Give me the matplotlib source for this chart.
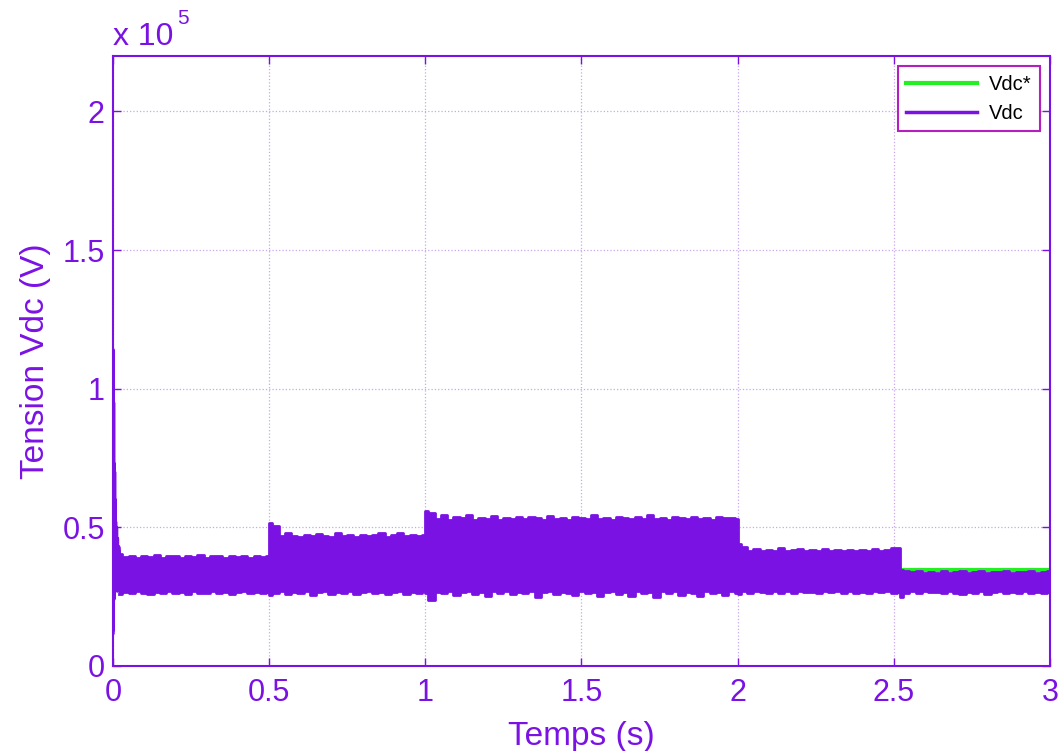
import numpy as np
import matplotlib
matplotlib.use("Agg")
import matplotlib.pyplot as plt

# ------------------------------------------------------------
# Data (tension in units of 1e5 V)
# ------------------------------------------------------------
vdc_ref_t = [0.0, 3.0]
vdc_ref = [0.347, 0.347]

# start-up transient of Vdc
trans_t = [0.0, 0.0004, 0.0008, 0.0016, 0.0024, 0.0032, 0.004, 0.0048, 0.0056,
           0.0064, 0.0072, 0.008, 0.0095, 0.011, 0.0125, 0.014, 0.016, 0.018, 0.02]
trans_v = [0.12, 1.14, 0.13, 0.95, 0.24, 0.73, 0.26, 0.70, 0.28, 0.60, 0.27,
           0.52, 0.28, 0.50, 0.29, 0.46, 0.27, 0.43, 0.40]

# segment limits of the oscillating band
seg_edges = [0.02, 0.5, 1.0, 2.0, 2.52, 3.0]

upper1 = [0.405, 0.392, 0.398, 0.390, 0.396, 0.392, 0.400, 0.391, 0.395, 0.398,
          0.390, 0.396, 0.393, 0.399, 0.391, 0.395, 0.397, 0.390, 0.396, 0.392,
          0.398, 0.391, 0.395, 0.393, 0.396]
lower1 = [0.258, 0.268, 0.262, 0.270, 0.265, 0.260, 0.268, 0.264, 0.270, 0.262,
          0.267, 0.260, 0.269, 0.265, 0.262, 0.270, 0.264, 0.268, 0.261, 0.266,
          0.269, 0.263, 0.267, 0.262, 0.268]

upper2 = [0.515, 0.505, 0.468, 0.480, 0.470, 0.466, 0.474, 0.468, 0.476, 0.470,
          0.465, 0.478, 0.469, 0.472, 0.466, 0.474, 0.468, 0.471, 0.478, 0.467,
          0.473, 0.480, 0.469, 0.474, 0.470, 0.472]
lower2 = [0.255, 0.262, 0.270, 0.258, 0.268, 0.262, 0.270, 0.256, 0.266, 0.271,
          0.260, 0.268, 0.263, 0.270, 0.259, 0.267, 0.272, 0.262, 0.268, 0.258,
          0.266, 0.270, 0.261, 0.268, 0.264, 0.269]

upper3 = [0.560, 0.552, 0.530, 0.545, 0.528, 0.536, 0.532, 0.544, 0.526, 0.534,
          0.530, 0.540, 0.527, 0.535, 0.531, 0.538, 0.529, 0.536, 0.533, 0.527,
          0.541, 0.530, 0.534, 0.528, 0.537, 0.532, 0.529, 0.544, 0.531, 0.535,
          0.527, 0.538, 0.532, 0.529, 0.536, 0.530, 0.545, 0.531, 0.534, 0.528,
          0.537, 0.533, 0.529, 0.538, 0.531, 0.535, 0.528, 0.536, 0.532, 0.534,
          0.530]
lower3 = [0.262, 0.237, 0.268, 0.262, 0.270, 0.255, 0.266, 0.272, 0.260, 0.268,
          0.252, 0.269, 0.264, 0.271, 0.258, 0.267, 0.262, 0.270, 0.250, 0.266,
          0.271, 0.259, 0.268, 0.263, 0.255, 0.270, 0.264, 0.268, 0.251, 0.267,
          0.272, 0.260, 0.268, 0.254, 0.270, 0.263, 0.267, 0.250, 0.269, 0.262,
          0.271, 0.257, 0.268, 0.264, 0.252, 0.270, 0.262, 0.267, 0.256, 0.269,
          0.264]

upper4 = [0.440, 0.430, 0.416, 0.422, 0.414, 0.419, 0.416, 0.424, 0.413, 0.418,
          0.421, 0.415, 0.419, 0.414, 0.422, 0.416, 0.418, 0.413, 0.420, 0.415,
          0.419, 0.416, 0.421, 0.414, 0.418, 0.424, 0.425]
lower4 = [0.260, 0.270, 0.264, 0.271, 0.266, 0.262, 0.270, 0.265, 0.269, 0.263,
          0.271, 0.266, 0.268, 0.262, 0.270, 0.266, 0.269, 0.263, 0.270, 0.265,
          0.268, 0.264, 0.271, 0.266, 0.269, 0.262, 0.268]

upper5 = [0.346, 0.344, 0.338, 0.341, 0.336, 0.340, 0.337, 0.342, 0.336, 0.339,
          0.341, 0.337, 0.340, 0.343, 0.336, 0.340, 0.338, 0.342, 0.337, 0.340,
          0.338, 0.341, 0.337, 0.340, 0.342]
lower5 = [0.249, 0.262, 0.270, 0.264, 0.271, 0.266, 0.268, 0.262, 0.270, 0.265,
          0.260, 0.268, 0.264, 0.270, 0.258, 0.266, 0.271, 0.263, 0.268, 0.262,
          0.270, 0.264, 0.268, 0.262, 0.268]

uppers = [upper1, upper2, upper3, upper4, upper5]
lowers = [lower1, lower2, lower3, lower4, lower5]

x_ticks = [0, 0.5, 1, 1.5, 2, 2.5, 3]
x_labels = ["0", "0.5", "1", "1.5", "2", "2.5", "3"]
y_ticks = [0, 0.5, 1, 1.5, 2]
y_labels = ["0", "0.5", "1", "1.5", "2"]

# ------------------------------------------------------------
# Styling
# ------------------------------------------------------------
purple = "#7A12E4"
green = "#22F022"
plt.rcParams['font.family'] = ['Liberation Sans', 'DejaVu Sans']

fig = plt.figure(figsize=(10.61, 7.51), dpi=100)
ax = fig.add_axes([0.1065, 0.1132, 0.8831, 0.8122])

# reference
ax.plot(vdc_ref_t, vdc_ref, color=green, lw=3, label="Vdc*", zorder=2)

# measured Vdc: band built from envelopes, segment by segment
t_all, up_all, lo_all = [], [], []
for i in range(len(uppers)):
    ts = np.linspace(seg_edges[i], seg_edges[i + 1], len(uppers[i]))
    t_all.extend(ts)
    up_all.extend(uppers[i])
    lo_all.extend(lowers[i])
t_all = np.array(t_all)
ax.fill_between(t_all, lo_all, up_all, color=purple, lw=0, step="mid", zorder=3)
ax.plot(t_all, up_all, color=purple, lw=2, drawstyle="steps-mid", zorder=3)
ax.plot(t_all, lo_all, color=purple, lw=2, drawstyle="steps-mid", zorder=3)
ax.plot(trans_t, trans_v, color=purple, lw=2.5, zorder=3, label="Vdc")

ax.set_xlim(0, 3)
ax.set_ylim(0, 2.2)
ax.set_xticks(x_ticks)
ax.set_xticklabels(x_labels)
ax.set_yticks(y_ticks)
ax.set_yticklabels(y_labels)

ax.grid(True, color="#C7A6F2", linestyle=":", lw=0.9)
ax.set_axisbelow(True)
for s in ax.spines.values():
    s.set_color(purple)
    s.set_linewidth(1.5)
ax.tick_params(direction="in", length=6, width=1, colors=purple,
               labelsize=22, top=True, right=True, pad=9)
ax.tick_params(axis="y", pad=6)

ax.set_xlabel("Temps (s)", fontsize=24, color=purple, labelpad=9)
ax.set_ylabel("Tension Vdc (V)", fontsize=24, color=purple)
ax.yaxis.set_label_coords(-0.066, 0.5)

fig.text(113 / 1061, 1 - 45 / 751, "x 10", fontsize=23, color=purple,
         ha="left", va="baseline")
fig.text(177 / 1061, 1 - 24 / 751, "5", fontsize=15, color=purple,
         ha="left", va="baseline")

leg = ax.legend(loc="upper right", fontsize=14.5, handlelength=3.5,
                borderaxespad=0.5, fancybox=False, framealpha=1,
                edgecolor="#B51FC2", labelspacing=0.5, borderpad=0.42,
                handletextpad=0.6)
leg.get_frame().set_linewidth(1.5)

plt.savefig("out.png", dpi=100)
